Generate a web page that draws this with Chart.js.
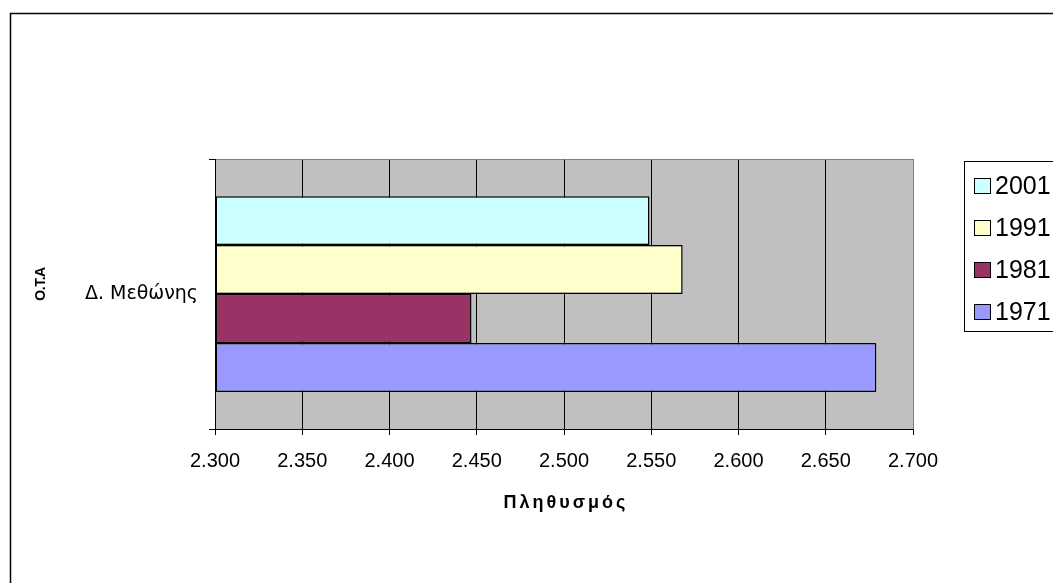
<!DOCTYPE html>
<html lang="el">
<head>
<meta charset="utf-8">
<title>Πληθυσμός Δ. Μεθώνης</title>
<script src="https://cdn.jsdelivr.net/npm/chart.js@4.4.1/dist/chart.umd.min.js"></script>
<style>
  html, body { margin: 0; padding: 0; background: #fff; }
  canvas { display: block; }
</style>
</head>
<body>
<canvas id="chart" width="1053" height="583"></canvas>
<script>
// Δήμος
const categories = ['Δ. Μεθώνης'];

// Απογραφές (σειρές) με τη σειρά που εμφανίζονται
const years = ['2001', '1991', '1981', '1971'];
const pop2001 = [2549];
const pop1991 = [2568];
const pop1981 = [2447];
const pop1971 = [2679];
const seriesValues = [pop2001, pop1991, pop1981, pop1971];
const seriesColors = ['#CCFFFF', '#FFFFCC', '#993366', '#9999FF'];

// Άξονας πληθυσμού
const xTickValues = [2300, 2350, 2400, 2450, 2500, 2550, 2600, 2650, 2700];
const axisMin = xTickValues[0];
const axisMax = xTickValues[xTickValues.length - 1];
const axisStep = xTickValues[1] - xTickValues[0];

const sansFamily = '"Liberation Sans", Arial, Helvetica, sans-serif';

// 2300 -> "2.300"
const formatThousands = v => String(v).replace(/\B(?=(\d{3})+(?!\d))/g, '.');

// White page, outer frame and grey plot background
const framePlugin = {
  id: 'frame',
  beforeDraw(chart) {
    const { ctx, chartArea: a } = chart;
    ctx.save();
    ctx.fillStyle = '#fff';
    ctx.fillRect(0, 0, chart.width, chart.height);
    ctx.strokeStyle = '#000';
    ctx.lineWidth = 1.5;
    ctx.strokeRect(10.5, 13.5, chart.width + 20, chart.height + 20);
    ctx.fillStyle = '#C0C0C0';
    ctx.fillRect(a.left, a.top, a.right - a.left, a.bottom - a.top);
    ctx.restore();
  }
};

// Letter spacing / offset for the axis titles
const titleSpacingPlugin = {
  id: 'titleSpacing',
  afterUpdate(chart, args, opts) {
    Object.values(chart.scales).forEach(scale => {
      const t = opts[scale.id];
      if (!t || scale._spacedTitle) return;
      const base = scale.drawTitle;
      scale.drawTitle = function () {
        const ctx = this.ctx;
        ctx.save();
        ctx.letterSpacing = t.spacing || '0px';
        ctx.translate(t.dx || 0, t.dy || 0);
        base.call(this);
        ctx.restore();
      };
      scale._spacedTitle = true;
    });
  }
};

// Boxed legend on the right
const legendBoxPlugin = {
  id: 'legendBox',
  afterDraw(chart) {
    const ctx = chart.ctx;
    const left = 964.5, top = 161.5, bottom = 331.5;
    const firstRow = 185.5, rowStep = 42.2;
    ctx.save();
    ctx.fillStyle = '#fff';
    ctx.fillRect(left, top, chart.width - left + 10, bottom - top);
    ctx.strokeStyle = '#000';
    ctx.lineWidth = 1;
    ctx.strokeRect(left, top, chart.width - left + 10, bottom - top);
    ctx.font = '25px ' + sansFamily;
    ctx.textBaseline = 'middle';
    ctx.textAlign = 'left';
    chart.data.datasets.forEach((ds, i) => {
      const cy = Math.round(firstRow + i * rowStep);
      ctx.fillStyle = ds.backgroundColor;
      ctx.fillRect(974.5, cy - 7.5, 16, 15);
      ctx.strokeRect(974.5, cy - 7.5, 16, 15);
      ctx.fillStyle = '#000';
      ctx.fillText(ds.label, 995, cy + 1);
    });
    ctx.restore();
  }
};

new Chart(document.getElementById('chart'), {
  type: 'bar',
  data: {
    labels: categories,
    datasets: years.map((year, i) => ({
      label: year,
      data: seriesValues[i],
      base: axisMin,
      backgroundColor: seriesColors[i],
      borderColor: '#000',
      borderWidth: 1.5,
      borderSkipped: false,
      categoryPercentage: 0.725,
      barPercentage: 1
    }))
  },
  options: {
    indexAxis: 'y',
    responsive: false,
    animation: false,
    events: [],
    layout: { padding: { top: 159, right: 140, left: 0, bottom: 0 } },
    plugins: {
      legend: { display: false },
      tooltip: { enabled: false },
      titleSpacing: {
        x: { spacing: '3px', dx: 2 },
        y: { spacing: '-0.5px', dy: -10 }
      }
    },
    scales: {
      x: {
        type: 'linear',
        position: 'bottom',
        min: axisMin,
        max: axisMax,
        afterFit: s => { s.height = 154; },
        grid: {
          color: c => (c.tick && c.tick.value === axisMax ? '#808080' : '#000'),
          tickColor: '#000',
          tickLength: 6,
          lineWidth: 1
        },
        border: { color: '#000', width: 1 },
        ticks: {
          stepSize: axisStep,
          padding: 14,
          color: '#000',
          font: { family: sansFamily, size: 20 },
          callback: v => formatThousands(v)
        },
        title: {
          display: true,
          text: 'Πληθυσμός',
          color: '#000',
          font: { family: sansFamily, size: 18, weight: 'bold' },
          padding: { top: 0, bottom: 69 }
        }
      },
      y: {
        afterFit: s => { s.width = 215; },
        grid: { offset: true, color: '#808080', tickColor: '#000', tickLength: 6 },
        border: { color: '#000', width: 1 },
        ticks: {
          padding: 11,
          color: '#000',
          font: { family: '"DejaVu Sans", Verdana, sans-serif', size: 19 }
        },
        title: {
          display: true,
          text: 'Ο.Τ.Α',
          color: '#000',
          font: { family: sansFamily, size: 14, weight: 'bold' },
          padding: { top: 33, bottom: 0 }
        }
      }
    }
  },
  plugins: [framePlugin, titleSpacingPlugin, legendBoxPlugin]
});
</script>
</body>
</html>
